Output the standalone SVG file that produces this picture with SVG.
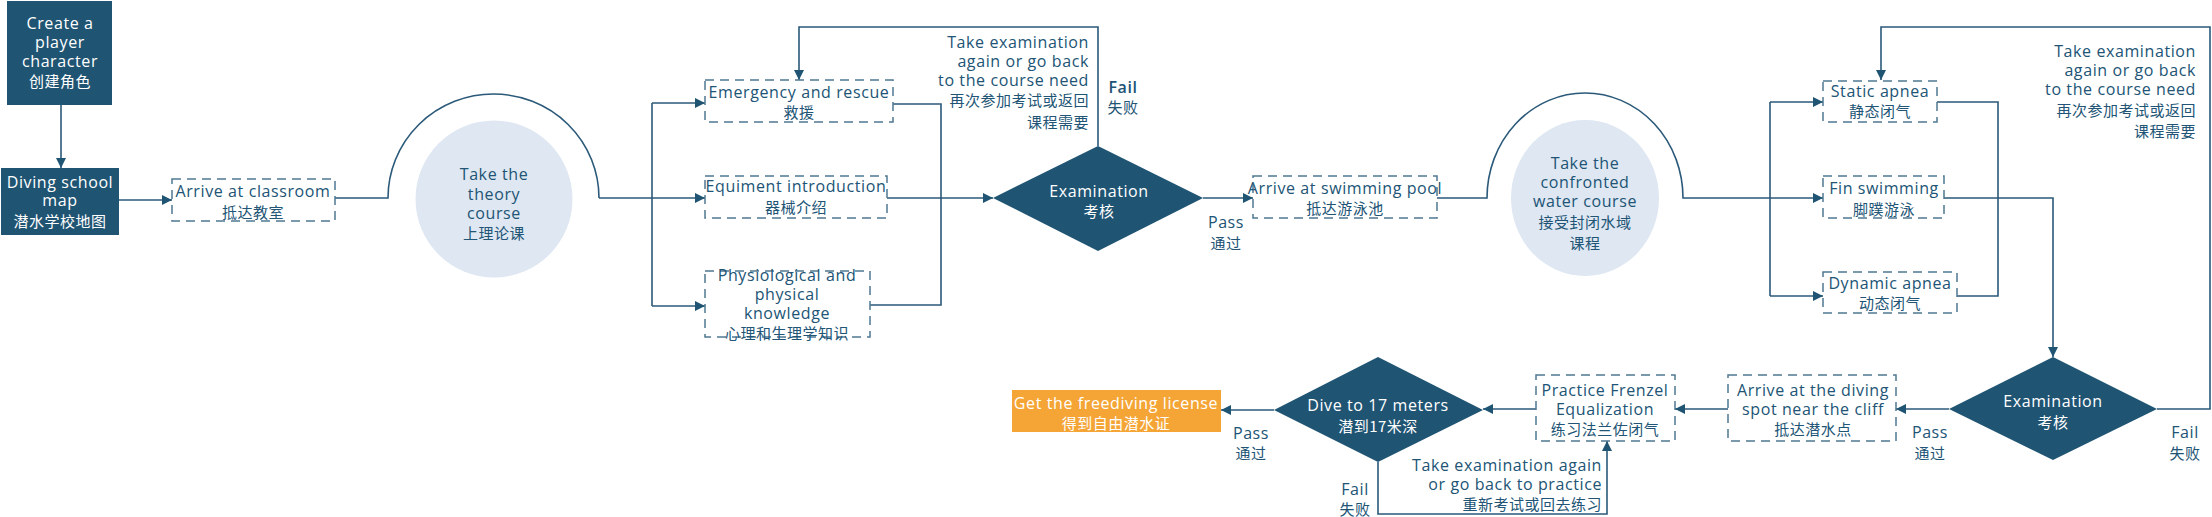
<svg xmlns="http://www.w3.org/2000/svg" width="2212" height="517" viewBox="0 0 2212 517">
<style>
text{font-family:"Open Sans","Noto Sans CJK SC",sans-serif;font-size:16px;letter-spacing:0.6px;fill:#215475;text-anchor:middle}
text.c{font-family:"Noto Sans CJK SC",sans-serif;font-size:15px;letter-spacing:0.5px}
.w{fill:#ffffff}
.r{text-anchor:end}
.b{font-weight:600}
.solid{fill:#1f5473}
.dash{fill:#ffffff;stroke:#4f7893;stroke-width:1.5;stroke-dasharray:9 6}
.circ{fill:#dee7f2}
.ln{fill:none;stroke:#2b5979;stroke-width:1.6}
.arr{fill:none;stroke:#2b5979;stroke-width:1.6;marker-end:url(#ah)}
.dia{fill:#1f5473}
</style>
<defs>
<marker id="ah" viewBox="0 0 10 10" refX="10" refY="5" markerWidth="10" markerHeight="10" markerUnits="userSpaceOnUse" orient="auto">
<path d="M0,0 L10,5 L0,10 z" fill="#1f5473"/>
</marker>
</defs>

<g id="connectors">
<path class="arr" d="M61,105 V168"/>
<path class="arr" d="M119,200 H172"/>
<path class="ln" d="M335,198 H388 A105.5,104 0 0 1 599,198"/>
<path class="arr" d="M599,198 H705"/>
<path class="ln" d="M652,103 V306"/>
<path class="arr" d="M652,103 H705"/>
<path class="arr" d="M652,306 H705"/>
<path class="ln" d="M893,104 H941 V305 H870"/>
<path class="arr" d="M887,198 H993"/>
<path class="arr" d="M1098,146 V27 H799 V80"/>
<path class="arr" d="M1203,198 H1253"/>
<path class="ln" d="M1437,198 H1487 A98,105 0 0 1 1683,198 H1770"/>
<path class="ln" d="M1770,102 V296"/>
<path class="arr" d="M1770,198 H1823"/>
<path class="arr" d="M1770,102 H1823"/>
<path class="arr" d="M1770,296 H1823"/>
<path class="ln" d="M1937,102 H1998 V296 H1957"/>
<path class="arr" d="M1944,198 H2053 V357"/>
<path class="arr" d="M2157,409 H2210 V27 H1881 V80"/>
<path class="arr" d="M1949,409 H1896"/>
<path class="arr" d="M1728,409 H1675"/>
<path class="arr" d="M1536,409 H1483"/>
<path class="arr" d="M1378,462 V514 H1607 V441"/>
<path class="arr" d="M1274,410 H1221"/>
</g>

<g id="create-character">
<rect class="solid" x="7" y="1" width="105" height="104"/>
<text class="w" x="60" y="29">Create a</text>
<text class="w" x="60" y="48">player</text>
<text class="w" x="60" y="67">character</text>
<text class="w c" x="60" y="87">创建角色</text>
</g>

<g id="school-map">
<rect class="solid" x="1" y="168" width="118" height="67"/>
<text class="w" x="60" y="188">Diving school</text>
<text class="w" x="60" y="206">map</text>
<text class="w c" x="60" y="227">潜水学校地图</text>
</g>

<g id="classroom">
<rect class="dash" x="172" y="179" width="163" height="42"/>
<text x="253" y="197">Arrive at classroom</text>
<text class="c" x="253" y="218">抵达教室</text>
</g>

<g id="theory-course">
<circle class="circ" cx="494" cy="199" r="78.5"/>
<text x="494" y="180">Take the</text>
<text x="494" y="200">theory</text>
<text x="494" y="219">course</text>
<text class="c" x="494" y="239">上理论课</text>
</g>

<g id="emergency">
<rect class="dash" x="705" y="80" width="188" height="42"/>
<text x="799" y="98">Emergency and rescue</text>
<text class="c" x="799" y="118">救援</text>
</g>

<g id="equipment">
<rect class="dash" x="705" y="176" width="182" height="42"/>
<text x="796" y="192">Equiment introduction</text>
<text class="c" x="796" y="213">器械介绍</text>
</g>

<g id="physiological">
<rect class="dash" x="705" y="271" width="165" height="66"/>
<text x="787" y="281">Physiological and</text>
<text x="787" y="300">physical</text>
<text x="787" y="319">knowledge</text>
<text class="c" x="787" y="339">心理和生理学知识</text>
</g>

<g id="exam1">
<polygon class="dia" points="993,198 1098,146 1203,198 1098,251"/>
<text class="w" x="1099" y="197">Examination</text>
<text class="w c" x="1099" y="217">考核</text>
</g>

<g id="exam1-labels">
<text class="r" x="1089" y="48">Take examination</text>
<text class="r" x="1089" y="67">again or go back</text>
<text class="r" x="1089" y="86">to the course need</text>
<text class="r c" x="1089" y="106">再次参加考试或返回</text>
<text class="r c" x="1089" y="128">课程需要</text>
<text class="b" x="1123" y="93">Fail</text>
<text class="c" x="1123" y="113">失败</text>
<text x="1226" y="228">Pass</text>
<text class="c" x="1226" y="249">通过</text>
</g>

<g id="swimming-pool">
<rect class="dash" x="1253" y="176" width="184" height="42"/>
<text x="1345" y="194">Arrive at swimming pool</text>
<text class="c" x="1345" y="214">抵达游泳池</text>
</g>

<g id="water-course">
<ellipse class="circ" cx="1585" cy="198" rx="74" ry="78"/>
<text x="1585" y="169">Take the</text>
<text x="1585" y="188">confronted</text>
<text x="1585" y="207">water course</text>
<text class="c" x="1585" y="228">接受封闭水域</text>
<text class="c" x="1585" y="249">课程</text>
</g>

<g id="static-apnea">
<rect class="dash" x="1823" y="81" width="114" height="41"/>
<text x="1880" y="97">Static apnea</text>
<text class="c" x="1880" y="117">静态闭气</text>
</g>

<g id="fin-swimming">
<rect class="dash" x="1823" y="176" width="121" height="42"/>
<text x="1884" y="194">Fin swimming</text>
<text class="c" x="1884" y="215">脚蹼游泳</text>
</g>

<g id="dynamic-apnea">
<rect class="dash" x="1823" y="272" width="134" height="41"/>
<text x="1890" y="289">Dynamic apnea</text>
<text class="c" x="1890" y="309">动态闭气</text>
</g>

<g id="exam2">
<polygon class="dia" points="1949,409 2053,357 2157,409 2053,460"/>
<text class="w" x="2053" y="407">Examination</text>
<text class="w c" x="2053" y="428">考核</text>
</g>

<g id="exam2-labels">
<text class="r" x="2196" y="57">Take examination</text>
<text class="r" x="2196" y="76">again or go back</text>
<text class="r" x="2196" y="95">to the course need</text>
<text class="r c" x="2196" y="116">再次参加考试或返回</text>
<text class="r c" x="2196" y="137">课程需要</text>
<text x="2185" y="438">Fail</text>
<text class="c" x="2185" y="459">失败</text>
<text x="1930" y="438">Pass</text>
<text class="c" x="1930" y="459">通过</text>
</g>

<g id="diving-spot">
<rect class="dash" x="1728" y="375" width="168" height="66"/>
<text x="1813" y="396">Arrive at the diving</text>
<text x="1813" y="415">spot near the cliff</text>
<text class="c" x="1813" y="435">抵达潜水点</text>
</g>

<g id="frenzel">
<rect class="dash" x="1536" y="375" width="139" height="66"/>
<text x="1605" y="396">Practice Frenzel</text>
<text x="1605" y="415">Equalization</text>
<text class="c" x="1605" y="435">练习法兰佐闭气</text>
</g>

<g id="dive-17m">
<polygon class="dia" points="1274,410 1378,357 1483,410 1378,462"/>
<text class="w" x="1378" y="411">Dive to 17 meters</text>
<text class="w c" x="1378" y="432">潜到17米深</text>
</g>

<g id="dive-labels">
<text class="r" x="1602" y="471">Take examination again</text>
<text class="r" x="1602" y="490">or go back to practice</text>
<text class="r c" x="1602" y="510">重新考试或回去练习</text>
<text x="1355" y="495">Fail</text>
<text class="c" x="1355" y="515">失败</text>
<text x="1251" y="439">Pass</text>
<text class="c" x="1251" y="459">通过</text>
</g>

<g id="license">
<rect x="1012" y="390" width="209" height="42" fill="#f4a535"/>
<text class="w" x="1116" y="409">Get the freediving license</text>
<text class="w c" x="1116" y="429">得到自由潜水证</text>
</g>
</svg>
